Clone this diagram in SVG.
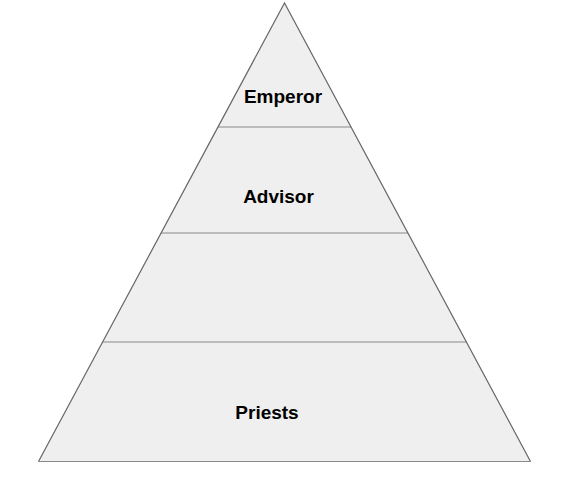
<svg xmlns="http://www.w3.org/2000/svg" width="578" height="492" viewBox="0 0 578 492">
<style>
.layer{fill:#efefef;stroke:none}
.div{stroke:#8a8a8a;stroke-width:1.2;fill:none}
.edge{stroke:#666;stroke-width:1.2;fill:none}
.lbl{font-family:"Liberation Sans",Arial,sans-serif;font-weight:bold;font-size:19px;fill:#000;text-anchor:middle}
</style>
<rect width="578" height="492" fill="#fff"/>
<g id="emperor">
<polygon class="layer" points="284.5,3 351,127 218,127"/>
<text class="lbl" x="283" y="102.5">Emperor</text>
</g>
<g id="advisor">
<polygon class="layer" points="218,127 351,127 408,233 161,233"/>
<text class="lbl" x="278.5" y="202.5">Advisor</text>
</g>
<g id="middle">
<polygon class="layer" points="161,233 408,233 467,342 103,342"/>
</g>
<g id="priests">
<polygon class="layer" points="103,342 467,342 530.5,461.5 38.5,461.5"/>
<text class="lbl" x="267" y="419">Priests</text>
</g>
<g id="connectors">
<line class="div" x1="218" y1="127" x2="351" y2="127"/>
<line class="div" x1="161" y1="233" x2="408" y2="233"/>
<line class="div" x1="103" y1="342" x2="467" y2="342"/>
<line class="div" x1="38.5" y1="461.5" x2="530.5" y2="461.5" stroke-width="1.5"/>
<polyline class="edge" points="38.5,461.5 284.5,3 530.5,461.5"/>
</g>
</svg>
